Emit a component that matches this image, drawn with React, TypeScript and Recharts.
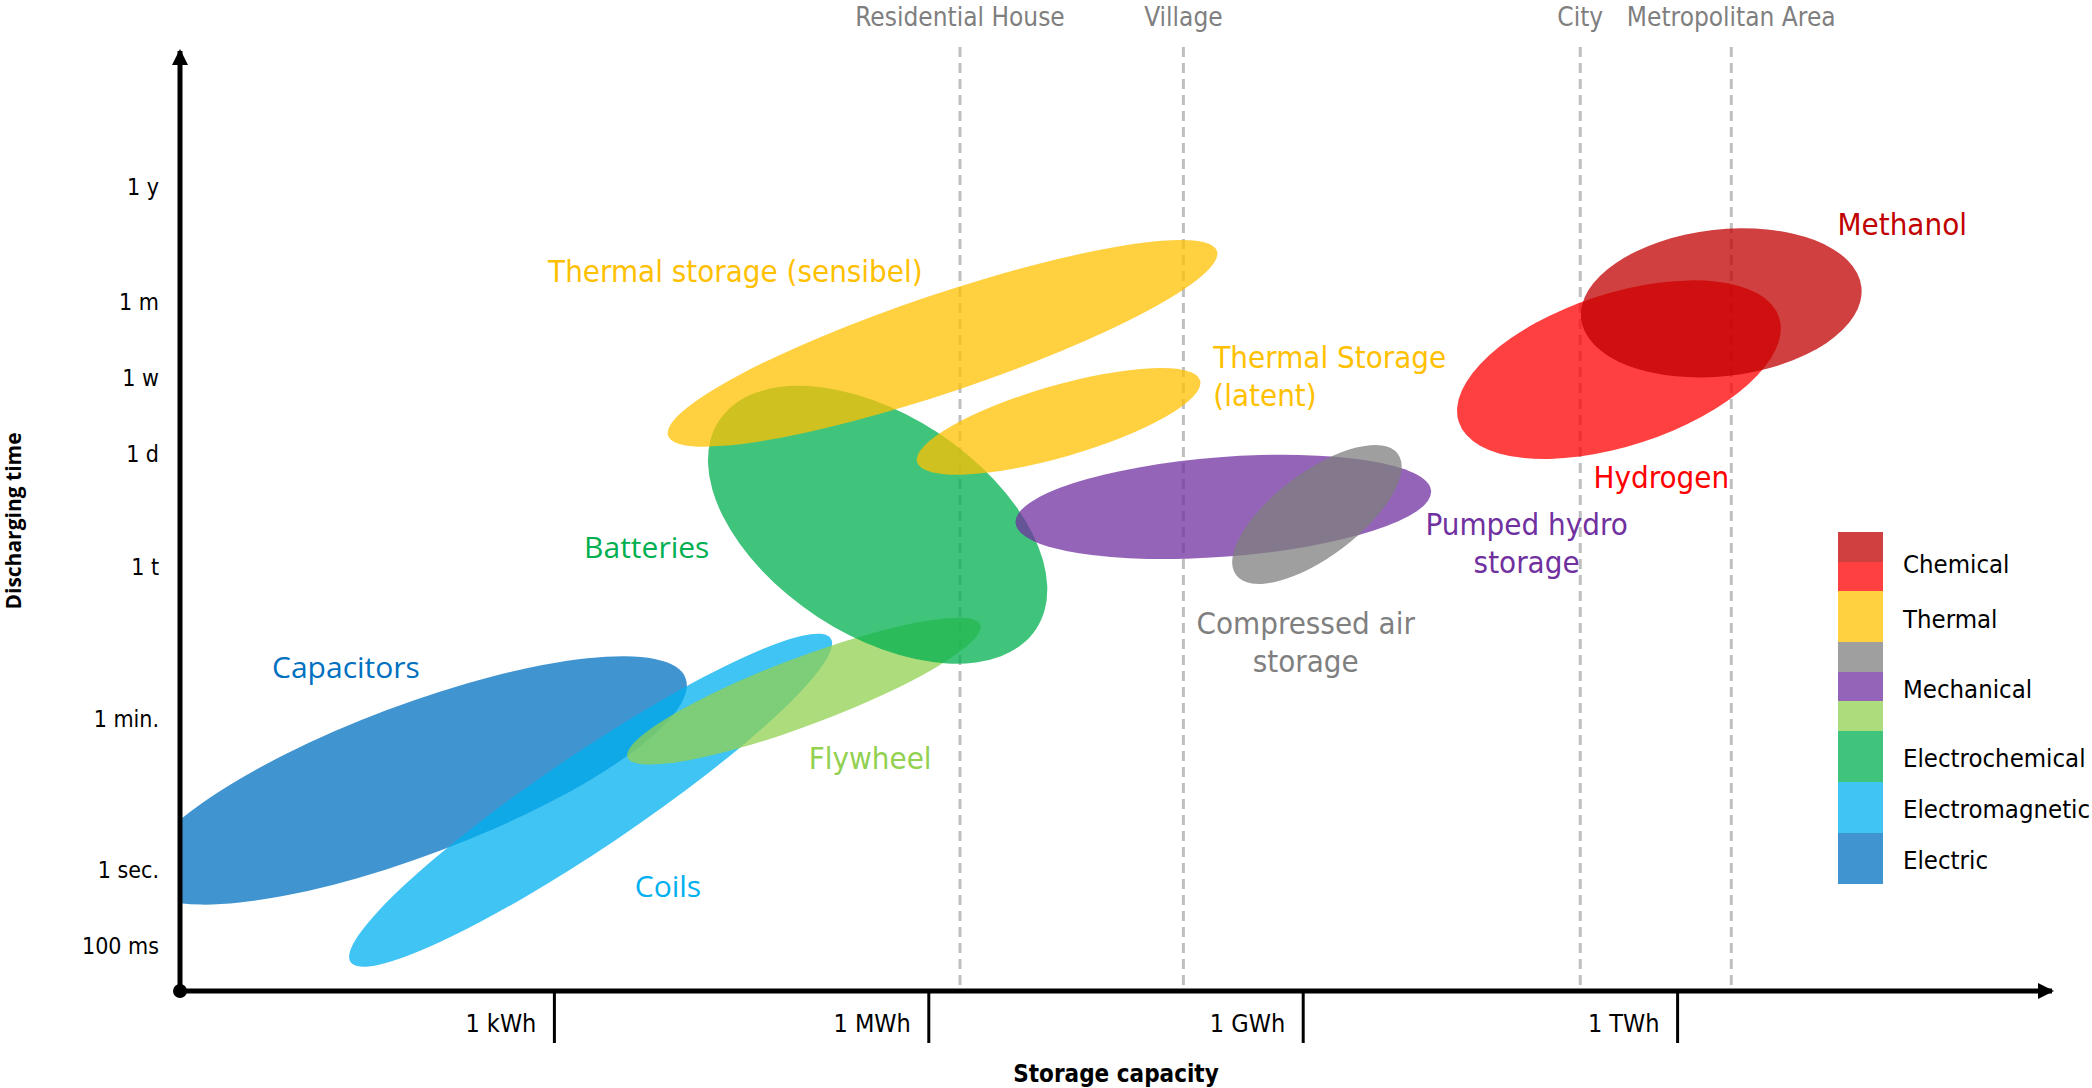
import React from 'react';
import { ComposedChart, XAxis, YAxis, ReferenceArea, ReferenceDot, Scatter, Legend } from 'recharts';

const NARROW = "'DejaVu Sans Condensed', 'DejaVu Sans', sans-serif";
const ROUND = "'Open Sans', sans-serif";

// x = log10(Wh): 1 kWh = 3 ... 1 TWh = 12
const xTicks = [3, 6, 9, 12];
const xTickLabels = ['1 kWh', '1 MWh', '1 GWh', '1 TWh'];

// y = schematic position on the discharge-time axis (0 = origin, 100 = arrow tip)
const yTicks = [4.8, 12.9, 29.0, 45.1, 57.1, 65.2, 73.3, 85.5];
const yTickLabels = ['100 ms', '1 sec.', '1 min.', '1 t', '1 d', '1 w', '1 m', '1 y'];

// settlement scale markers on top
const scaleX = [6.25, 8.04, 11.22, 12.43];
const scaleNames = ['Residential House', 'Village', 'City', 'Metropolitan Area'];

// storage technologies: centre, half axes (rx in x units, ry in y units), tilt in degrees
const techNames = ['Capacitors', 'Coils', 'Flywheel', 'Batteries', 'Thermal sensible', 'Thermal latent', 'Pumped hydro', 'Compressed air', 'Hydrogen', 'Methanol'];
const techX = [1.87, 3.29, 5.0, 5.59, 6.11, 7.04, 8.36, 9.11, 11.53, 12.35];
const techY = [22.4, 20.3, 31.9, 49.6, 68.9, 60.6, 51.5, 50.7, 66.1, 73.2];
const techRx = [2.33, 2.32, 1.51, 1.52, 2.32, 1.18, 1.67, 0.81, 1.35, 1.13];
const techRy = [8.0, 5.0, 3.6, 11.7, 5.2, 3.8, 5.3, 4.5, 8.1, 7.8];
const techTilt = [20.6, 34, 20.6, -33.3, 18.6, 16.1, 4.4, 36.9, 18.1, 6.5];
const techColor = ['#0070C0', '#00B0F0', '#92D050', '#00B050', '#FFC000', '#FFC000', '#7030A0', '#7F7F7F', '#FF0000', '#C00000'];

// text labels for the regions
const labelLines = [
  ['Capacitors'], ['Coils'], ['Flywheel'], ['Batteries'], ['Thermal storage (sensibel)'],
  ['Thermal Storage', '(latent)'], ['Pumped hydro', 'storage'], ['Compressed air', 'storage'],
  ['Hydrogen'], ['Methanol'],
];
const labelX = [1.33, 3.91, 5.53, 3.74, 4.45, 8.28, 10.79, 9.02, 11.87, 13.8];
const labelY = [34.5, 11.1, 24.8, 47.2, 76.6, 67.5, 49.7, 39.2, 54.7, 81.6];

const legendNames = ['Chemical', 'Thermal', 'Mechanical', 'Electrochemical', 'Electromagnetic', 'Electric'];
const legendColors = [
  ['#C00000', '#FF0000'], ['#FFC000'], ['#7F7F7F', '#7030A0', '#92D050'],
  ['#00B050'], ['#00B0F0'], ['#0070C0'],
];

const labelData = labelLines.map((lines, i) => ({
  x: labelX[i],
  y: labelY[i],
  lines,
  color: techColor[i],
  anchor: i === 5 ? 'start' : 'middle',
  font: i === 0 || i === 1 || i === 3 ? ROUND : NARROW,
  size: i === 0 || i === 1 || i === 3 ? 30 : 31,
}));

const XTick = (props: any) => {
  const { x, y, payload } = props;
  const label = xTickLabels[xTicks.indexOf(payload.value)];
  return (
    <g>
      <line x1={x} y1={y} x2={x} y2={y + 52} stroke="#000" strokeWidth={3} />
      <text x={x - 18} y={y + 32} dy="0.36em" textAnchor="end" fontSize={25} fontFamily={NARROW} fill="#000">
        {label}
      </text>
    </g>
  );
};

const RegionLabel = (props: any) => {
  const { cx, cy, payload } = props;
  return (
    <text x={cx} y={cy} textAnchor={payload.anchor} fontSize={payload.size} fontFamily={payload.font} fill={payload.color}>
      {payload.lines.map((l: string, j: number) => (
        <tspan key={j} x={cx} y={cy + j * 38} dy="0.36em">{l}</tspan>
      ))}
    </text>
  );
};

// ellipse inside the rect given by the axis scales, cut at the axes (x = 0, y = 0)
const makeEllipse = (i: number) => (p: any) => {
  const cx = p.x + p.width / 2;
  const cy = p.y + p.height / 2;
  const pxPerX = p.width / (2 * techRx[i]);
  const pxPerY = p.height / (2 * techRy[i]);
  const left = cx - techX[i] * pxPerX;
  const bottom = cy + techY[i] * pxPerY;
  const id = `clip-tech-${i}`;
  return (
    <g>
      <defs>
        <clipPath id={id}>
          <rect x={left} y={bottom - 4000} width={4000} height={4000} />
        </clipPath>
      </defs>
      <g clipPath={`url(#${id})`}>
        <ellipse
          cx={cx}
          cy={cy}
          rx={p.width / 2}
          ry={p.height / 2}
          transform={`rotate(${-techTilt[i]} ${cx} ${cy})`}
          fill={techColor[i]}
          fillOpacity={0.75}
        />
      </g>
    </g>
  );
};

const LegendBox = () => (
  <div style={{ display: 'flex', flexDirection: 'column' }}>
    {legendNames.map((name, i) => {
      const cols = legendColors[i];
      const segH = cols.length > 1 ? 29.6 : 51;
      return (
        <div key={name} style={{ display: 'flex', alignItems: 'center' }}>
          <div style={{ width: 45, display: 'flex', flexDirection: 'column', flexShrink: 0 }}>
            {cols.map((c) => (
              <div key={c} style={{ height: segH, background: c, opacity: 0.75 }} />
            ))}
          </div>
          <span style={{ marginLeft: 20, marginTop: 4, fontSize: 25.5, fontFamily: NARROW, color: '#000', whiteSpace: 'nowrap' }}>{name}</span>
        </div>
      );
    })}
  </div>
);

export default function App() {
  return (
    <div style={{ position: 'absolute', left: 0, top: 0, background: '#fff' }}>
      <ComposedChart width={2092} height={1088} margin={{ top: 51, right: 40, bottom: 0, left: 0 }}>
        <XAxis
          type="number"
          dataKey="x"
          domain={[0, 15]}
          ticks={xTicks}
          interval={0}
          allowDataOverflow
          height={97}
          axisLine={{ stroke: '#000', strokeWidth: 5 }}
          tickLine={false}
          tickSize={0}
          tickMargin={0}
          tick={<XTick />}
          label={(p: any) => {
            const vb = p.viewBox || { x: 180, y: 991, width: 1872 };
            return (
              <text x={vb.x + vb.width / 2} y={vb.y + 82} dy="0.36em" textAnchor="middle" fontSize={24} fontWeight="bold" fontFamily={NARROW} fill="#000">
                Storage capacity
              </text>
            );
          }}
        />
        <YAxis
          type="number"
          dataKey="y"
          domain={[0, 100]}
          ticks={yTicks}
          interval={0}
          allowDataOverflow
          width={180}
          axisLine={{ stroke: '#000', strokeWidth: 5 }}
          tickLine={false}
          tickSize={0}
          tickMargin={21}
          tickFormatter={(v: number) => yTickLabels[yTicks.indexOf(v)]}
          tick={{ fill: '#000', fontSize: 23, fontFamily: NARROW }}
          label={(p: any) => {
            const vb = p.viewBox || { x: 0, y: 51, height: 940 };
            const cx = vb.x + 13;
            const cy = vb.y + vb.height / 2;
            return (
              <text x={cx} y={cy} dy="0.36em" textAnchor="middle" transform={`rotate(-90 ${cx} ${cy})`} fontSize={21} fontWeight="bold" fontFamily={ROUND} fill="#000">
                Discharging time
              </text>
            );
          }}
        />

        {scaleX.map((x, i) => (
          <ReferenceArea
            key={scaleNames[i]}
            x1={x}
            x2={x}
            y1={0}
            y2={100}
            ifOverflow="visible"
            shape={(p: any) => (
              <g>
                <line x1={p.x} y1={p.y - 4} x2={p.x} y2={p.y + p.height} stroke="#BFBFBF" strokeWidth={3} strokeDasharray="10 6" />
                <text x={p.x} y={p.y - 34} dy="0.36em" textAnchor="middle" fontSize={26} fontFamily={NARROW} fill="#7F7F7F">
                  {scaleNames[i]}
                </text>
              </g>
            )}
          />
        ))}

        {techNames.map((name, i) => (
          <ReferenceArea
            key={name}
            x1={techX[i] - techRx[i]}
            x2={techX[i] + techRx[i]}
            y1={techY[i] - techRy[i]}
            y2={techY[i] + techRy[i]}
            ifOverflow="visible"
            shape={makeEllipse(i)}
          />
        ))}

        <Scatter data={labelData} dataKey="y" shape={RegionLabel} isAnimationActive={false} />

        <ReferenceDot x={0} y={0} r={7} fill="#000" stroke="none" ifOverflow="visible" />
        <ReferenceDot
          x={0}
          y={100}
          ifOverflow="visible"
          shape={(p: any) => <polygon points={`${p.cx},${p.cy - 2} ${p.cx - 8},${p.cy + 14} ${p.cx + 8},${p.cy + 14}`} fill="#000" />}
        />
        <ReferenceDot
          x={15}
          y={0}
          ifOverflow="visible"
          shape={(p: any) => <polygon points={`${p.cx + 2},${p.cy} ${p.cx - 14},${p.cy - 8} ${p.cx - 14},${p.cy + 8}`} fill="#000" />}
        />

        <Legend
          layout="vertical"
          align="center"
          verticalAlign="middle"
          content={<LegendBox />}
          wrapperStyle={{ left: 1838, top: 532, width: 260 }}
        />
      </ComposedChart>
    </div>
  );
}
